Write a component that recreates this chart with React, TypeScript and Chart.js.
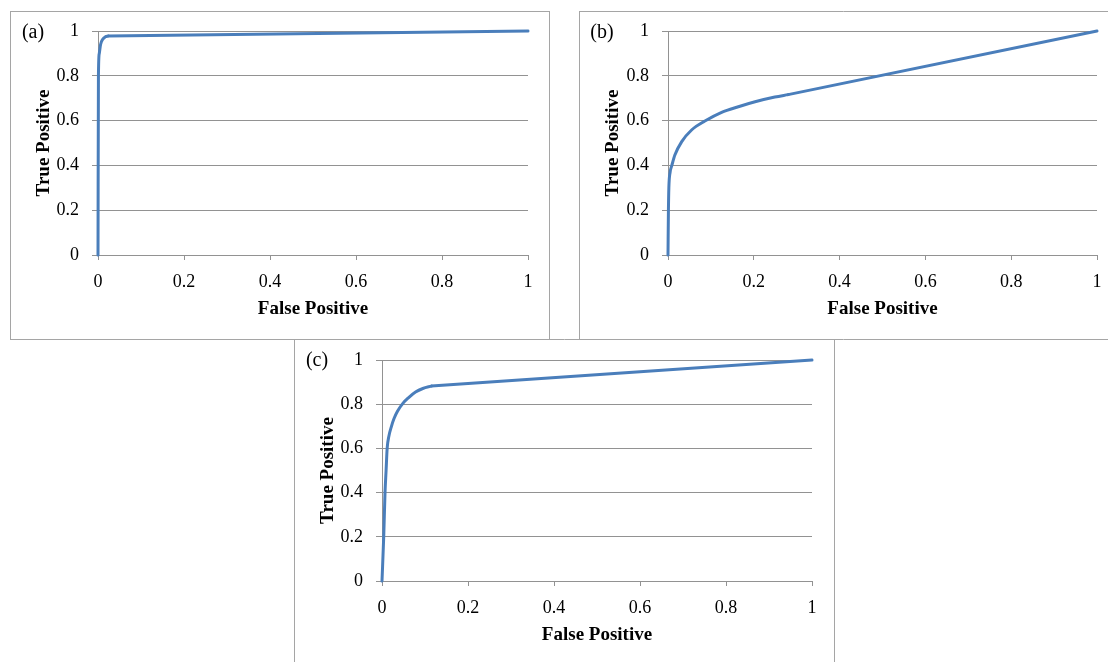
import React, { useEffect, useRef } from 'react';
import { Chart, registerables } from 'chart.js';

Chart.register(...registerables);

// ---- data ----
const axisTickValues = [0, 0.2, 0.4, 0.6, 0.8, 1];
const axisTickLabels = ['0', '0.2', '0.4', '0.6', '0.8', '1'];
const xAxisTitle = 'False Positive';
const yAxisTitle = 'True Positive';

// (a) curved head of the ROC curve, then the straight tail
const rocACurveFpr = [0, 0.001, 0.003, 0.006, 0.011, 0.017, 0.024];
const rocACurveTpr = [0, 0.8, 0.9, 0.94, 0.963, 0.974, 0.978];
const rocATailFpr = [0.024, 1];
const rocATailTpr = [0.978, 1];

// (b)
const rocBCurveFpr = [0, 0.001, 0.002, 0.005, 0.009, 0.016, 0.032, 0.055, 0.086, 0.125, 0.164, 0.203, 0.249, 0.28];
const rocBCurveTpr = [0, 0.2, 0.3, 0.37, 0.4, 0.446, 0.506, 0.558, 0.598, 0.637, 0.662, 0.684, 0.705, 0.716];
const rocBTailFpr = [0.28, 1];
const rocBTailTpr = [0.716, 1];

// (c)
const rocCCurveFpr = [0, 0.004, 0.007, 0.0095, 0.012, 0.016, 0.022, 0.028, 0.036, 0.049, 0.062, 0.078, 0.095, 0.115];
const rocCCurveTpr = [0, 0.2, 0.4, 0.5, 0.6, 0.655, 0.7, 0.735, 0.768, 0.805, 0.83, 0.855, 0.871, 0.882];
const rocCTailFpr = [0.115, 1];
const rocCTailTpr = [0.882, 1];

// ---- style ----
const FONT_FAMILY = '"Liberation Serif", "Times New Roman", serif';
const LINE_COLOR = '#4a7ebb';
const GRID_COLOR = '#929292';
const FRAME_COLOR = '#a5a5a5';
const TICK_SIZE = 18;
const TITLE_SIZE = 19;
const TITLE_LH = TITLE_SIZE * 1.2;

type Sides = { l: boolean; t: boolean; r: boolean; b: boolean };
type PanelCfg = {
  label: string;
  left: number;
  top: number;
  width: number;
  height: number;
  area: { left: number; right: number; top: number; bottom: number };
  sides: Sides;
  curveFpr: number[];
  curveTpr: number[];
  tailFpr: number[];
  tailTpr: number[];
};

const panels: PanelCfg[] = [
  {
    label: '(a)', left: 10, top: 11, width: 540, height: 329,
    area: { left: 88, right: 518, top: 20, bottom: 244 },
    sides: { l: true, t: true, r: true, b: true },
    curveFpr: rocACurveFpr, curveTpr: rocACurveTpr, tailFpr: rocATailFpr, tailTpr: rocATailTpr,
  },
  {
    label: '(b)', left: 579, top: 11, width: 529, height: 329,
    area: { left: 89, right: 518, top: 20, bottom: 244 },
    sides: { l: true, t: true, r: false, b: true },
    curveFpr: rocBCurveFpr, curveTpr: rocBCurveTpr, tailFpr: rocBTailFpr, tailTpr: rocBTailTpr,
  },
  {
    label: '(c)', left: 294, top: 339, width: 541, height: 323,
    area: { left: 88, right: 518, top: 21, bottom: 242 },
    sides: { l: true, t: true, r: true, b: false },
    curveFpr: rocCCurveFpr, curveTpr: rocCCurveTpr, tailFpr: rocCTailFpr, tailTpr: rocCTailTpr,
  },
];

const panelDecor = {
  id: 'panelDecor',
  beforeDraw(chart: any, _args: any, opts: any) {
    const { ctx, width, height } = chart;
    ctx.save();
    ctx.fillStyle = '#ffffff';
    ctx.fillRect(0, 0, width, height);
    ctx.strokeStyle = FRAME_COLOR;
    ctx.lineWidth = 1;
    ctx.beginPath();
    const s: Sides = opts.sides;
    if (s.l) { ctx.moveTo(0.5, 0); ctx.lineTo(0.5, height); }
    if (s.t) { ctx.moveTo(0, 0.5); ctx.lineTo(width, 0.5); }
    if (s.r) { ctx.moveTo(width - 0.5, 0); ctx.lineTo(width - 0.5, height); }
    if (s.b) { ctx.moveTo(0, height - 0.5); ctx.lineTo(width, height - 0.5); }
    ctx.stroke();
    ctx.restore();
  },
  afterDraw(chart: any, _args: any, opts: any) {
    const { ctx } = chart;
    ctx.save();
    ctx.fillStyle = '#000';
    ctx.font = `20px ${FONT_FAMILY}`;
    ctx.textAlign = 'center';
    ctx.textBaseline = 'middle';
    ctx.fillText(opts.label, 23, 22);
    ctx.restore();
  },
};

const zeroPadding = (s: any) => {
  s.paddingTop = 0;
  s.paddingBottom = 0;
  s.paddingLeft = 0;
  s.paddingRight = 0;
};

function RocPanel({ cfg }: { cfg: PanelCfg }) {
  const ref = useRef<HTMLCanvasElement | null>(null);
  useEffect(() => {
    if (!ref.current) return;
    const xAxisH = cfg.height - cfg.area.bottom;
    const tickFont = { family: FONT_FAMILY, size: TICK_SIZE };
    const titleFont = { family: FONT_FAMILY, size: TITLE_SIZE, weight: 'bold' as const };
    const chart = new Chart(ref.current, {
      type: 'line',
      data: {
        datasets: [
          {
            data: cfg.curveFpr.map((x, i) => ({ x, y: cfg.curveTpr[i] })),
            borderColor: LINE_COLOR,
            borderWidth: 3,
            pointRadius: 0,
            fill: false,
            cubicInterpolationMode: 'monotone',
            borderCapStyle: 'round',
            borderJoinStyle: 'round',
            clip: false as any,
          },
          {
            data: cfg.tailFpr.map((x, i) => ({ x, y: cfg.tailTpr[i] })),
            borderColor: LINE_COLOR,
            borderWidth: 3,
            pointRadius: 0,
            fill: false,
            tension: 0,
            borderCapStyle: 'round',
            clip: false as any,
          },
        ],
      },
      options: {
        animation: false,
        responsive: false,
        devicePixelRatio: 1,
        layout: {
          padding: { left: 0, top: cfg.area.top, right: cfg.width - cfg.area.right, bottom: 0 },
        },
        plugins: {
          legend: { display: false },
          tooltip: { enabled: false },
          panelDecor: { sides: cfg.sides, label: cfg.label },
        } as any,
        scales: {
          x: {
            type: 'linear',
            min: 0,
            max: 1,
            afterBuildTicks: (s: any) => {
              s.ticks = axisTickValues.map((v) => ({ value: v }));
            },
            afterFit: (s: any) => {
              s.height = xAxisH;
              zeroPadding(s);
            },
            ticks: {
              autoSkip: false,
              maxRotation: 0,
              padding: 11,
              color: '#000',
              font: tickFont,
              callback: (_v: any, i: number) => axisTickLabels[i],
            },
            grid: { drawOnChartArea: false, drawTicks: true, tickLength: 5, color: GRID_COLOR, lineWidth: 1 },
            border: { display: true, color: GRID_COLOR, width: 1 },
            title: {
              display: true,
              text: xAxisTitle,
              color: '#000',
              font: titleFont,
              padding: { top: 0, bottom: xAxisH - 54 - TITLE_LH / 2 },
            },
          },
          y: {
            type: 'linear',
            min: 0,
            max: 1,
            afterBuildTicks: (s: any) => {
              s.ticks = axisTickValues.map((v) => ({ value: v }));
            },
            afterFit: (s: any) => {
              s.width = cfg.area.left;
              zeroPadding(s);
            },
            ticks: {
              autoSkip: false,
              padding: 13,
              color: '#000',
              font: tickFont,
              callback: (_v: any, i: number) => axisTickLabels[i],
            },
            grid: { drawOnChartArea: true, drawTicks: true, tickLength: 6, color: GRID_COLOR, lineWidth: 1 },
            border: { display: true, color: GRID_COLOR, width: 1 },
            title: {
              display: true,
              text: yAxisTitle,
              color: '#000',
              font: titleFont,
              padding: { top: 34 - TITLE_LH / 2, bottom: 0 },
            },
          },
        },
      } as any,
      plugins: [panelDecor],
    });
    return () => chart.destroy();
  }, [cfg]);
  return (
    <canvas
      ref={ref}
      width={cfg.width}
      height={cfg.height}
      style={{ position: 'absolute', left: cfg.left, top: cfg.top, width: cfg.width, height: cfg.height, display: 'block' }}
    />
  );
}

export default function App() {
  return (
    <div
      style={{
        position: 'absolute',
        left: 0,
        top: 0,
        width: 1108,
        height: 662,
        overflow: 'hidden',
        background: '#ffffff',
      }}
    >
      {panels.map((p) => (
        <RocPanel key={p.label} cfg={p} />
      ))}
    </div>
  );
}
